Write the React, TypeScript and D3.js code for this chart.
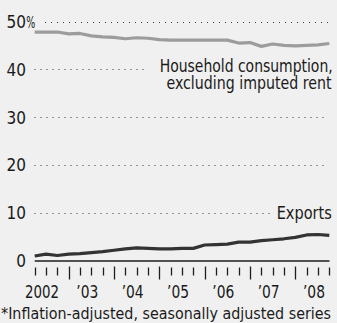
import React from "react";
import * as d3 from "d3";

const quarters = [
  "2002Q2", "2002Q3", "2002Q4",
  "2003Q1", "2003Q2", "2003Q3", "2003Q4",
  "2004Q1", "2004Q2", "2004Q3", "2004Q4",
  "2005Q1", "2005Q2", "2005Q3", "2005Q4",
  "2006Q1", "2006Q2", "2006Q3", "2006Q4",
  "2007Q1", "2007Q2", "2007Q3", "2007Q4",
  "2008Q1", "2008Q2", "2008Q3", "2008Q4",
];

const household = [
  47.8, 47.8, 47.8, 47.4, 47.5, 47.0, 46.8, 46.7, 46.4, 46.6, 46.5, 46.2, 46.1, 46.1,
  46.1, 46.1, 46.1, 46.1, 45.5, 45.6, 44.8, 45.3, 45.0, 44.9, 45.0, 45.1, 45.4,
];

const exportsSeries = [
  1.0, 1.4, 1.1, 1.4, 1.5, 1.7, 1.9, 2.2, 2.5, 2.7, 2.6, 2.5, 2.5, 2.6,
  2.6, 3.3, 3.4, 3.5, 3.9, 3.9, 4.2, 4.4, 4.6, 4.9, 5.4, 5.5, 5.3,
];

const yTicks = [0, 10, 20, 30, 40, 50];
const yearLabels = ["2002", "\u201903", "\u201904", "\u201905", "\u201906", "\u201907", "\u201908"];
const yearMidQuarters = ["2002Q3", "2003Q3", "2004Q3", "2005Q3", "2006Q3", "2007Q3", "2008Q3"];
const householdLabel = ["Household consumption,", "excluding imputed rent"];
const exportsLabel = "Exports";
const footnote = "*Inflation-adjusted, seasonally adjusted series";

const W = 337;
const H = 323;
const FONT = "'DejaVu Sans Condensed', 'Liberation Sans Narrow', 'Arial Narrow', 'Liberation Sans', sans-serif";
const TEXT = "#1a1a1a";

export default function App() {
  const x = d3.scalePoint<string>().domain(quarters).range([34.7, 329.3]);
  const y = d3.scaleLinear().domain([0, 50]).range([260.8, 21.5]);

  const line = d3
    .line<number>()
    .x((_, i) => x(quarters[i]) as number)
    .y((d) => y(d));

  const gridX1 = (t: number) => (t === 50 ? 45 : 34.5);
  const gridX2 = (t: number) => (t === 40 ? 148 : t === 10 ? 273 : 328);

  return (
    <svg
      width={W}
      height={H}
      style={{ position: "absolute", left: 0, top: 0, display: "block" }}
      fontFamily={FONT}
    >
      <rect x={0} y={0} width={W} height={H} fill="#f0f0f0" />

      {/* gridlines */}
      {yTicks
        .filter((t) => t !== 0)
        .map((t) => (
          <line
            key={"g" + t}
            x1={gridX1(t)}
            x2={gridX2(t)}
            y1={Math.round(y(t)) + 0.5}
            y2={Math.round(y(t)) + 0.5}
            stroke="#3a3a3a"
            strokeWidth={1}
            strokeDasharray="1,5"
          />
        ))}

      {/* y labels */}
      {yTicks.map((t) => (
        <text
          key={"yl" + t}
          x={26}
          y={y(t) + 6.3}
          fontSize={17}
          fill={TEXT}
          textAnchor="end"
        >
          {t}
        </text>
      ))}
      <text
        x={26.3}
        y={y(50) + 6.8}
        fontSize={15}
        fill={TEXT}
        textLength={9}
        lengthAdjust="spacingAndGlyphs"
      >
        %
      </text>

      {/* axis */}
      <line x1={34.7} x2={329.5} y1={261} y2={261} stroke="#1e1e1e" strokeWidth={1.6} />
      {quarters.map((q) => {
        const long = q.endsWith("Q1");
        const xx = Math.round(x(q) as number) + 0.5;
        return (
          <line
            key={"t" + q}
            x1={xx}
            x2={xx}
            y1={long ? 266.5 : 267.5}
            y2={long ? 279.5 : 275.5}
            stroke="#1e1e1e"
            strokeWidth={1.3}
          />
        );
      })}
      {yearLabels.map((lab, i) => (
        <text
          key={"yr" + lab}
          x={(x(yearMidQuarters[i]) as number) - 4}
          y={297.5}
          fontSize={17}
          fill={TEXT}
          textAnchor="middle"
          textLength={i === 0 ? 34 : 22}
          lengthAdjust="spacingAndGlyphs"
        >
          {lab}
        </text>
      ))}

      {/* lines */}
      <path
        d={line(household) || ""}
        fill="none"
        stroke="#9c9c9c"
        strokeWidth={3.2}
        strokeLinejoin="round"
      />
      <path
        d={line(exportsSeries) || ""}
        fill="none"
        stroke="#333333"
        strokeWidth={3.2}
        strokeLinejoin="round"
      />

      {/* series labels */}
      <text
        x={332.7}
        y={71.5}
        fontSize={17}
        fill={TEXT}
        textAnchor="end"
        textLength={173}
        lengthAdjust="spacingAndGlyphs"
      >
        {householdLabel[0]}
      </text>
      <text
        x={331.5}
        y={89.3}
        fontSize={17}
        fill={TEXT}
        textAnchor="end"
        textLength={165}
        lengthAdjust="spacingAndGlyphs"
      >
        {householdLabel[1]}
      </text>
      <text
        x={331.7}
        y={219.2}
        fontSize={17}
        fill={TEXT}
        textAnchor="end"
        textLength={55}
        lengthAdjust="spacingAndGlyphs"
      >
        {exportsLabel}
      </text>

      {/* footnote */}
      <text
        x={1}
        y={318.5}
        fontSize={16}
        fill={TEXT}
        textLength={330}
        lengthAdjust="spacingAndGlyphs"
      >
        {footnote}
      </text>
    </svg>
  );
}
